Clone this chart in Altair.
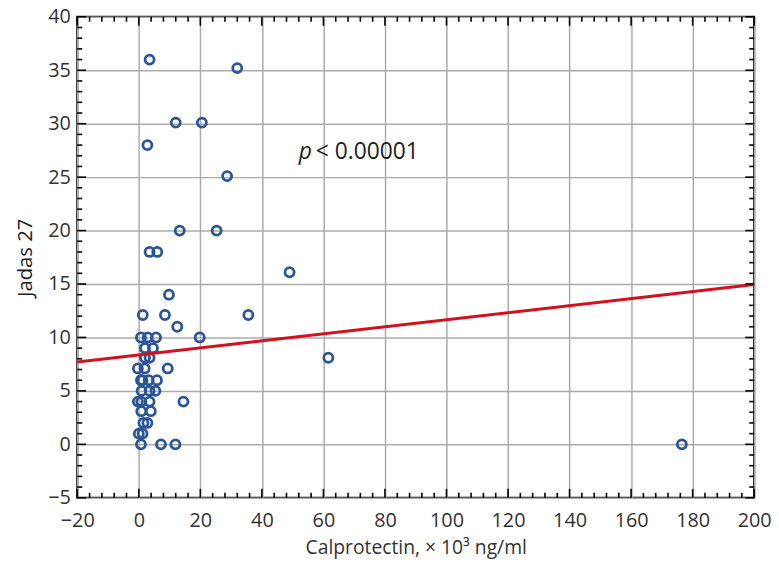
import altair as alt
import pandas as pd

# Data
calpro = [3.5, 32.0, 12.0, 20.5, 2.8, 28.7, 13.3, 25.3, 3.5, 6.0, 49.0,
          9.8, 1.3, 8.5, 12.5, 19.8, 35.6, 61.6,
          0.7, 2.9, 5.6, 2.0, 4.6, 2.0, 3.5,
          -0.3, 1.9, 9.4,
          0.7, 1.2, 3.2, 5.9,
          0.9, 3.5, 5.4,
          -0.3, 0.8, 3.5, 14.5,
          0.8, 3.9,
          1.5, 2.8,
          0.0, 1.2,
          0.7, 7.2, 11.9, 176.5]
jadas = [36.0, 35.2, 30.1, 30.1, 28.0, 25.1, 20.0, 20.0, 18.0, 18.0, 16.1,
         14.0, 12.1, 12.1, 11.0, 10.0, 12.1, 8.1,
         10.0, 10.0, 10.0, 9.0, 9.0, 8.1, 8.1,
         7.1, 7.1, 7.1,
         6.0, 6.0, 6.0, 6.0,
         5.0, 5.0, 5.0,
         4.0, 4.0, 4.0, 4.0,
         3.1, 3.1,
         2.0, 2.0,
         1.0, 1.0,
         0.0, 0.0, 0.0, 0.0]

line_x = [-20, 200]
line_y = [7.7, 14.95]

annot_x = [52.0, 57.5]
annot_y = [27.3, 27.3]
annot_text = ["p", "< 0.00001"]

x_major = [-20, 0, 20, 40, 60, 80, 100, 120, 140, 160, 180, 200]
x_minor = [v for v in range(-20, 201, 4) if v % 20 != 0]
y_major = [-5, 0, 5, 10, 15, 20, 25, 30, 35, 40]
y_minor = [v for v in range(-5, 41) if v % 5 != 0]

W, H = 684, 486
FONT = "Open Sans"
xs = alt.Scale(domain=[-20, 200], nice=False, zero=False)
ys = alt.Scale(domain=[-5, 40], nice=False, zero=False)

pts_df = pd.DataFrame({"x": calpro, "y": jadas})
line_df = pd.DataFrame({"x": line_x, "y": line_y})

xaxis = alt.Axis(values=x_major, grid=True, ticks=False, domain=False,
                 labelFlush=False,
                 gridColor="#ababab", gridWidth=1.5, labelFont=FONT,
                 labelFontSize=20, labelColor="#333333", labelPadding=13,
                 title="Calprotectin, × 10³ ng/ml", titleFont=FONT,
                 titleFontSize=19.5, titleFontWeight="normal", titleColor="#333333",
                 titlePadding=8)
yaxis = alt.Axis(values=y_major, grid=True, ticks=False, domain=False,
                 labelFlush=False,
                 gridColor="#ababab", gridWidth=1.5, labelFont=FONT,
                 labelFontSize=20, labelColor="#333333", labelPadding=7,
                 title="Jadas 27", titleFont=FONT, titleFontSize=20.5,
                 titleFontWeight="normal", titleColor="#222222", titlePadding=12)

points = alt.Chart(pts_df).mark_point(
    shape="circle", filled=False, size=84, strokeWidth=2.8,
    color="#2b5597", opacity=1
).encode(
    x=alt.X("x:Q", scale=xs, axis=xaxis),
    y=alt.Y("y:Q", scale=ys, axis=yaxis),
)

line = alt.Chart(line_df).mark_line(color="#d2101e", strokeWidth=3).encode(
    x=alt.X("x:Q", scale=xs, axis=xaxis),
    y=alt.Y("y:Q", scale=ys, axis=yaxis),
)

def xticks(vals, length, top):
    df = pd.DataFrame({"x": vals})
    y0 = 0 if top else H - length
    return alt.Chart(df).mark_rule(color="black", strokeWidth=1.6).encode(
        x=alt.X("x:Q", scale=xs, axis=xaxis),
        y=alt.value(y0), y2=alt.value(y0 + length))

def yticks(vals, length, right):
    df = pd.DataFrame({"y": vals})
    x0 = W - length if right else 0
    return alt.Chart(df).mark_rule(color="black", strokeWidth=1.6).encode(
        y=alt.Y("y:Q", scale=ys, axis=yaxis),
        x=alt.value(x0), x2=alt.value(x0 + length))

ticks = [
    xticks(x_major, 9, False), xticks(x_minor, 5, False),
    xticks(x_major, 9, True), xticks(x_minor, 5, True),
    yticks(y_major, 9, False), yticks(y_minor, 5, False),
    yticks(y_major, 9, True), yticks(y_minor, 5, True),
]

ann_p = alt.Chart(pd.DataFrame({"x": annot_x[:1], "y": annot_y[:1], "t": annot_text[:1]})).mark_text(
    font=FONT, fontSize=23, fontStyle="italic", align="left", baseline="middle", color="#222222"
).encode(x=alt.X("x:Q", scale=xs, axis=xaxis), y=alt.Y("y:Q", scale=ys, axis=yaxis), text="t:N")
ann_rest = alt.Chart(pd.DataFrame({"x": annot_x[1:], "y": annot_y[1:], "t": annot_text[1:]})).mark_text(
    font=FONT, fontSize=23, align="left", baseline="middle", color="#222222"
).encode(x=alt.X("x:Q", scale=xs, axis=xaxis), y=alt.Y("y:Q", scale=ys, axis=yaxis), text="t:N")

chart = alt.layer(points, line, *ticks, ann_p, ann_rest).properties(
    width=W, height=H,
    autosize=alt.AutoSizeParams(type="none"),
    padding={"left": 70, "top": 6, "right": 17, "bottom": 62},
).configure_view(stroke="black", strokeWidth=2)

chart.save("out.html", embed_options={"renderer": "svg", "actions": False})
